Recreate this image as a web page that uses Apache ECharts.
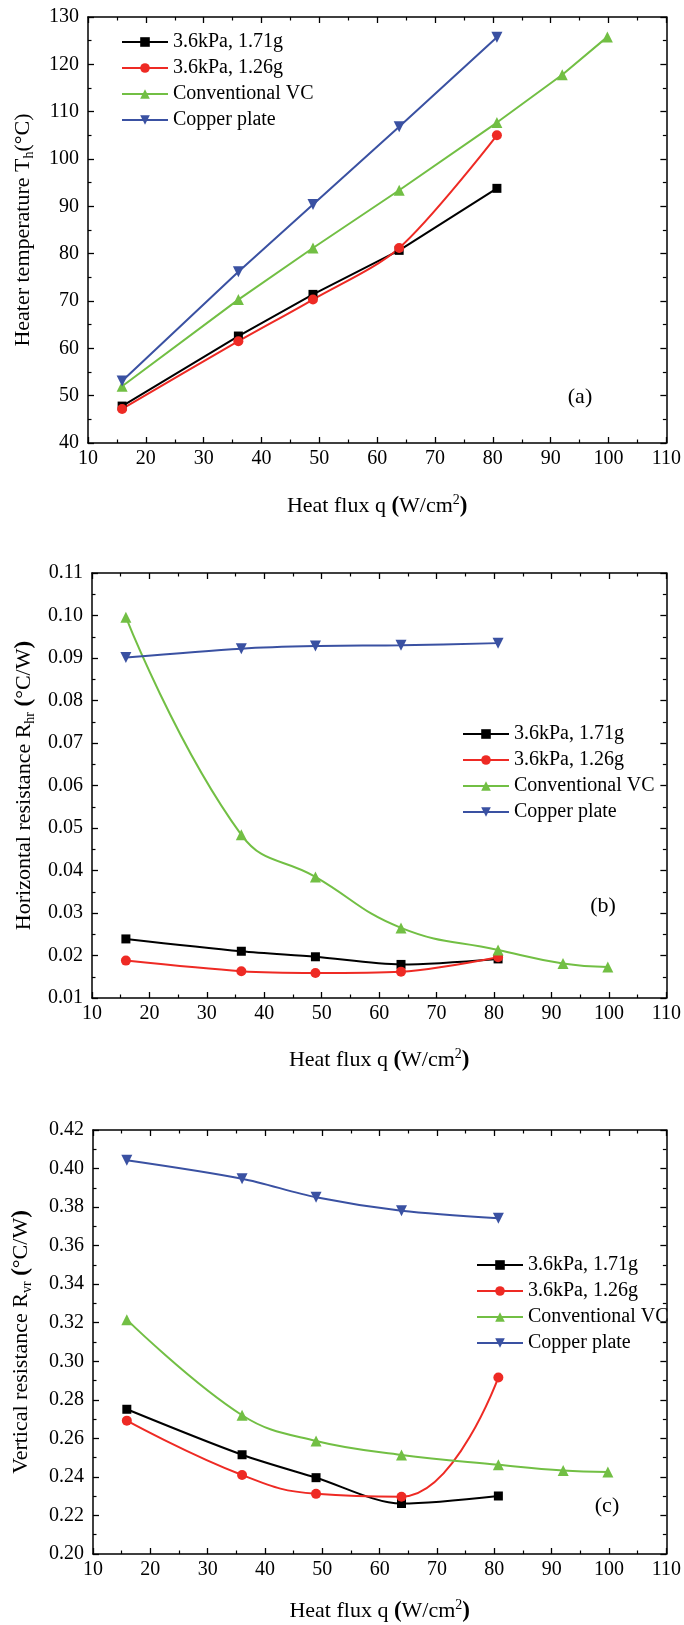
<!DOCTYPE html>
<html>
<head>
<meta charset="utf-8">
<script src="https://cdn.jsdelivr.net/npm/echarts@6/dist/echarts.min.js"></script>
<style>
  html, body { margin: 0; padding: 0; background: #fff; }
  #chart { width: 684px; height: 1625px; }
</style>
</head>
<body>
<div id="chart"></div>
<script>
  // heat flux values (W/cm2)
  const qVapor = [15.9, 36, 48.9, 63.8, 80.7];
  const qConv = [15.9, 36, 48.9, 63.8, 80.7, 92, 99.8];

  const seriesNames = ['3.6kPa, 1.71g', '3.6kPa, 1.26g', 'Conventional VC', 'Copper plate'];

  // (a) heater temperature
  const tempA = [47.8, 62.6, 71.4, 80.7, 93.8];
  const tempB = [47.2, 61.5, 70.3, 81.2, 105];
  const tempConv = [52.0, 70.3, 81.2, 93.4, 107.7, 117.8, 125.8];
  const tempCopper = [53.1, 76.2, 90.4, 106.8, 125.7];

  // (b) horizontal resistance
  const rhA = [0.0239, 0.0210, 0.0197, 0.0179, 0.0192];
  const rhB = [0.0188, 0.0163, 0.0159, 0.0162, 0.0196];
  const rhConv = [0.0996, 0.0484, 0.0385, 0.0265, 0.0213, 0.0181, 0.0173];
  const rhCopper = [0.0901, 0.0922, 0.0928, 0.0930, 0.0935];

  // (c) vertical resistance
  const rvA = [0.2751, 0.2515, 0.2396, 0.2262, 0.2301];
  const rvB = [0.2692, 0.2410, 0.2312, 0.2297, 0.2916];
  const rvConv = [0.3216, 0.2720, 0.2586, 0.2514, 0.2463, 0.2433, 0.2426];
  const rvCopper = [0.4043, 0.3947, 0.3851, 0.3781, 0.3742];

  const FONT = 'Liberation Serif';
  const colors = ['#000000', '#ee2a24', '#72bf44', '#3a51a2'];
  const symbols = ['rect', 'circle', 'triangle', 'path://M0,0 L10,0 L5,8.7 Z'];

  const pair = (xs, ys) => ys.map((y, i) => [xs[i], y]);

  let myChart = echarts.init(document.getElementById('chart'));

  const grids = [
    {left: 88, top: 17, width: 580, height: 426},
    {left: 92, top: 573, width: 583, height: 425},
    {left: 91, top: 1130, width: 581, height: 426}
  ];

  const yCfg = [
    {min: 40, max: 130, interval: 10, fmt: v => String(v), gap: 52,
      name: 'Heater temperature T{sub|h}(°C)'},
    {min: 0.01, max: 0.11, interval: 0.01, fmt: v => v.toFixed(2), gap: 54,
      name: 'Horizontal resistance R{sub|hr} {b|(}°C/W{b|)}'},
    {min: 0.20, max: 0.42, interval: 0.02, fmt: v => v.toFixed(2), gap: 59,
      name: 'Vertical resistance R{sub|vr} {b|(}°C/W{b|)}'}
  ];
  const xGaps = [50, 49, 44];

  function nameStyle() {
    return {
      color: '#000', fontFamily: FONT, fontSize: 22, lineHeight: 26,
      rich: {
        sub: {fontSize: 14, fontFamily: FONT, color: '#000', verticalAlign: 'bottom', lineHeight: 26},
        sup: {fontSize: 14, fontFamily: FONT, color: '#000', verticalAlign: 'top', lineHeight: 26},
        b: {fontSize: 23, fontFamily: FONT, color: '#000', fontWeight: 'bold', lineHeight: 26}
      }
    };
  }
  // charts with hidden split lines came out with a sans label font,
  // so the split lines stay on but are drawn fully transparent
  function axisParts() {
    return {
      axisLine: {lineStyle: {color: '#000', width: 1.5}},
      axisTick: {inside: true, length: 6, lineStyle: {color: '#000', width: 1.3}},
      minorTick: {show: true, splitNumber: 2, length: 3.5, lineStyle: {color: '#000', width: 1.2}},
      splitLine: {show: true, lineStyle: {color: 'rgba(0,0,0,0)', width: 1}}
    };
  }

  const xAxes = [], yAxes = [];
  grids.forEach((g, i) => {
    xAxes.push(Object.assign({
      gridIndex: i, type: 'value', min: 10, max: 110, interval: 10, position: 'bottom',
      axisLabel: {fontFamily: FONT, fontSize: 20, color: '#000', margin: 6},
      name: 'Heat flux q {b|(}W/cm{sup|2}{b|)}', nameLocation: 'middle', nameGap: xGaps[i],
      nameTextStyle: nameStyle()
    }, axisParts()));
    xAxes.push(Object.assign({
      gridIndex: i, type: 'value', min: 10, max: 110, interval: 10, position: 'top',
      axisLabel: {show: false}
    }, axisParts()));
    const c = yCfg[i];
    yAxes.push(Object.assign({
      gridIndex: i, type: 'value', min: c.min, max: c.max, interval: c.interval, position: 'left',
      axisLabel: {fontFamily: FONT, fontSize: 20, color: '#000', margin: 9, formatter: c.fmt},
      name: c.name, nameLocation: 'middle', nameGap: c.gap,
      nameTextStyle: nameStyle()
    }, axisParts()));
    yAxes.push(Object.assign({
      gridIndex: i, type: 'value', min: c.min, max: c.max, interval: c.interval, position: 'right',
      axisLabel: {show: false}
    }, axisParts()));
  });

  const panelData = [
    [tempA, tempB, tempConv, tempCopper],
    [rhA, rhB, rhConv, rhCopper],
    [rvA, rvB, rvConv, rvCopper]
  ];
  // how much each line is curved (the paper draws fitted curves in b and c)
  const smoothFlags = [
    [false, 0.3, false, false],
    [0.3, 0.3, 0.45, 0.3],
    [0.3, 0.45, 0.4, 0.3]
  ];

  const series = [];
  panelData.forEach((set, p) => {
    set.forEach((ys, k) => {
      const xs = (k === 2) ? qConv : qVapor;
      series.push({
        name: seriesNames[k],
        type: 'line',
        xAxisIndex: p * 2,
        yAxisIndex: p * 2,
        data: pair(xs, ys),
        smooth: smoothFlags[p][k],
        symbol: symbols[k],
        symbolSize: k === 0 ? 9 : (k === 1 ? 10 : 11),
        lineStyle: {color: colors[k], width: 2},
        itemStyle: {color: colors[k]}
      });
    });
  });

  const legendPos = [
    {left: 121, top: 32},
    {left: 462, top: 724},
    {left: 476, top: 1255}
  ];
  const legends = legendPos.map(pos => ({
    left: pos.left, top: pos.top, orient: 'vertical', padding: 0,
    itemWidth: 46, itemHeight: 12, itemGap: 6,
    data: seriesNames.slice(),
    textStyle: {color: '#000', fontFamily: FONT, fontSize: 20}
  }));

  const panelLabels = [
    {text: '(a)', x: 580, y: 397},
    {text: '(b)', x: 603, y: 906},
    {text: '(c)', x: 607, y: 1506}
  ];

  myChart.setOption({
    backgroundColor: '#fff',
    animation: false,
    grid: grids,
    xAxis: xAxes,
    yAxis: yAxes,
    legend: legends,
    series: series,
    graphic: panelLabels.map(l => ({
      type: 'text', x: l.x, y: l.y,
      style: {text: l.text, fontFamily: FONT, fontSize: 22, fill: '#000', align: 'center', verticalAlign: 'middle'}
    }))
  });
</script>
</body>
</html>
